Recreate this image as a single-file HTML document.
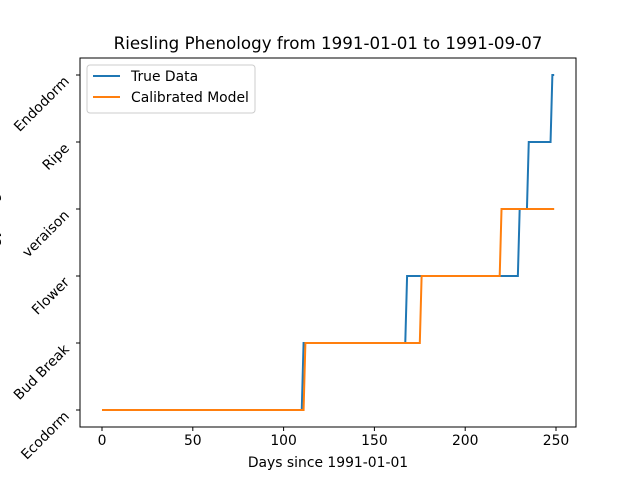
<!DOCTYPE html>
<html><head><meta charset="utf-8"><style>
body{margin:0;background:#fff}
svg{display:block;font-family:"DejaVu Sans","Liberation Sans",sans-serif}
</style></head><body>
<svg id="chart" width="640" height="480" viewBox="0 0 640 480" xmlns="http://www.w3.org/2000/svg">
<rect width="640" height="480" fill="#fff"/>
<text x="328" y="49" text-anchor="middle" font-size="16.7">Riesling Phenology from 1991-01-01 to 1991-09-07</text>
<g id="plot"></g>
<text x="328" y="467" text-anchor="middle" font-size="13.9">Days since 1991-01-01</text>
<text transform="translate(-2,243) rotate(-90)" text-anchor="middle" font-size="13.9">Phenology Stage</text>
<g>
<rect x="87" y="65" width="168" height="48" rx="3" fill="#fff" stroke="#ccc"/>
<line x1="93" y1="76" x2="120" y2="76" stroke="#1f77b4" stroke-width="2"/>
<text x="131" y="81" font-size="13.9">True Data</text>
<line x1="93" y1="97" x2="120" y2="97" stroke="#ff7f0e" stroke-width="2"/>
<text x="131" y="102" font-size="13.9">Calibrated Model</text>
</g>
</svg>
<script>
const stageLabels=["Ecodorm","Bud Break","Flower","veraison","Ripe","Endodorm"];
const xTicks=[0,50,100,150,200,250];
const trueDays=[0,110,111,167,168,229,230,234,235,247,248,249];
const trueStages=[0,0,1,1,2,2,3,3,4,4,5,5];
const modelDays=[0,111,112,175,176,219,220,249];
const modelStages=[0,0,1,1,2,2,3,3];
const L=80,R=576,T=58,B=427;
const xs=d=>102+d*(556-102)/250;
const ys=s=>410-s*(410-75)/5;
const NS="http://www.w3.org/2000/svg";
const plot=document.getElementById('plot');
function mk(tag,attrs){const e=document.createElementNS(NS,tag);for(const k in attrs)e.setAttribute(k,attrs[k]);plot.appendChild(e);return e;}
xTicks.forEach(t=>{
  const l=mk('line',{x1:xs(t),x2:xs(t),y1:B,y2:B+4,stroke:'#000'});
  
  
  const tx=mk('text',{x:xs(t),y:B+18,'text-anchor':'middle','font-size':13.9});
  tx.textContent=t;
  
  
});
stageLabels.forEach((s,i)=>{
  const y=ys(i);
  const l=mk('line',{x1:L-4,x2:L,y1:y,y2:y,stroke:'#000'});
  
  
  const tx=mk('text',{x:0,y:0,'text-anchor':'end','font-size':13.9,transform:`translate(${L-10},${y+7}) rotate(-45)`});
  tx.textContent=s;
  
  
});
function series(days,stages,color,name){
  const p=mk('polyline',{points:days.map((d,i)=>xs(d)+','+ys(stages[i])).join(' '),fill:'none',stroke:color,'stroke-width':2});
  
  
}
series(trueDays,trueStages,'#1f77b4','true-data-line');
series(modelDays,modelStages,'#ff7f0e','calibrated-model-line');
const f=mk('rect',{x:L,y:T,width:R-L,height:B-T,fill:'none',stroke:'#000'});


</script>
</body></html>
